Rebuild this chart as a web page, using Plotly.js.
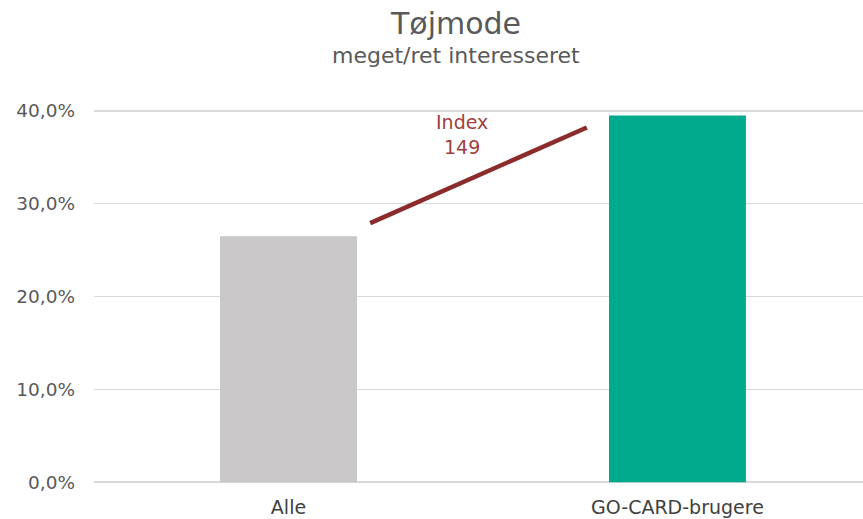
<!DOCTYPE html>
<html>
<head>
<meta charset="utf-8">
<script src="https://cdn.plot.ly/plotly-3.0.1.min.js"></script>
<style>
  html, body { margin: 0; padding: 0; background: #fff; }
  #plot { width: 863px; height: 519px; }
</style>
</head>
<body>
<div id="plot"></div>
<script>
/* data */
var categories = ["Alle", "GO-CARD-brugere"];
var shareValues = [26.5, 39.5];
var barColors = ["#C9C7C8", "#00AA8C"];

// index line between the two bars
var indexLineX = [0.21, 0.767];
var indexLineY = [27.9, 38.2];
var indexLabel = "Index<br>149";

var yTicks = [0, 10, 20, 30, 40];
var yTickText = yTicks.map(function (v) { return v.toFixed(1).replace(".", ",") + "%"; });

var textFont = "DejaVu Sans, sans-serif";

var barTrace = {
  x: categories.map(function (c, i) { return i; }),
  y: shareValues,
  type: "bar",
  marker: { color: barColors },
  hoverinfo: "skip"
};

var lineTrace = {
  x: indexLineX,
  y: indexLineY,
  type: "scatter",
  mode: "lines",
  line: { color: "#8B2B2B", width: 4.5 },
  hoverinfo: "skip"
};

var layout = {
  width: 863,
  height: 519,
  margin: { l: 94, r: 0, t: 108, b: 34 },
  paper_bgcolor: "#ffffff",
  plot_bgcolor: "#ffffff",
  showlegend: false,
  bargap: 0.648,
  font: { family: textFont, color: "#595959", size: 16 },
  title: {
    text: "Tøjmode",
    font: { family: textFont, size: 30, color: "#595959" },
    x: 456 / 863,
    xanchor: "center",
    y: 1 - 23 / 519,
    yanchor: "middle"
  },
  annotations: [
    {
      text: "meget/ret interesseret",
      xref: "paper", yref: "paper",
      x: (456 - 94) / 769, y: 1 + (108 - 55) / 377,
      xanchor: "center", yanchor: "middle",
      showarrow: false,
      font: { family: textFont, size: 22, color: "#595959" }
    },
    {
      text: indexLabel,
      xref: "x", yref: "y",
      x: 0.445, y: 37.4,
      showarrow: false,
      font: { family: textFont, size: 19, color: "#A0403E" }
    }
  ],
  xaxis: {
    range: [-0.5, 1.477],
    tickvals: [0, 1],
    ticktext: categories,
    showgrid: false,
    zeroline: false,
    showline: false,
    ticks: "",
    ticklabelstandoff: 9,
    tickfont: { family: textFont, size: 19, color: "#404040" },
    fixedrange: true
  },
  yaxis: {
    range: [-0.3, 40.3],
    tickvals: yTicks,
    ticktext: yTickText,
    showgrid: true,
    gridcolor: "#D9D9D9",
    gridwidth: 1.5,
    zeroline: false,
    showline: false,
    ticks: "",
    ticklabelstandoff: 18,
    tickfont: { family: textFont, size: 18.5, color: "#595959" },
    fixedrange: true
  }
};

Plotly.newPlot("plot", [barTrace, lineTrace], layout, { displayModeBar: false, staticPlot: true });
</script>
</body>
</html>
